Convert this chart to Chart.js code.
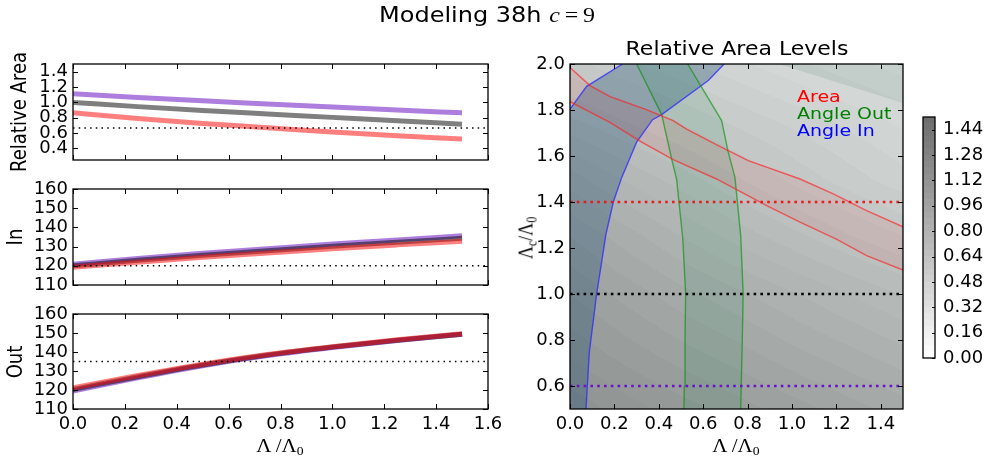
<!DOCTYPE html>
<html><head><meta charset="utf-8">
<script src="https://cdn.jsdelivr.net/npm/chart.js@4/dist/chart.umd.min.js"></script>
<style>
html,body{margin:0;padding:0;background:#fff;}
#wrap{position:relative;width:992px;height:467px;overflow:hidden;background:#fff;}
canvas{position:absolute;left:0;top:0;}
.t{position:absolute;white-space:nowrap;line-height:1;font-family:"DejaVu Sans",sans-serif;color:#000;}
.m{font-family:"Liberation Serif","DejaVu Serif",serif;}
.c{transform:translate(-50%,-50%) scaleY(0.86);}
.r{transform:translate(-50%,-50%) scaleY(0.86) rotate(-90deg);}
.l{transform:translate(0,-50%) scaleY(0.86);}
sub{font-size:65%;vertical-align:-0.3em;line-height:0;}
</style></head>
<body><div id="wrap">
<canvas id="p1" width="992" height="467"></canvas>
<canvas id="p2" width="992" height="467"></canvas>
<canvas id="p3" width="992" height="467"></canvas>
<canvas id="pc" width="992" height="467"></canvas>
<canvas id="cb" width="992" height="467"></canvas>
<div class="t c" style="left:487px;top:15px;font-size:24px;">Modeling 38h <span class="m" style="font-style:italic">c</span><span class="m">&thinsp;=&thinsp;9</span></div>
<div class="t c" style="left:737px;top:49px;font-size:22px;">Relative Area Levels</div>
<div class="t r" style="left:19px;top:112px;font-size:21px;">Relative Area</div>
<div class="t r" style="left:15px;top:237px;font-size:21px;">In</div>
<div class="t r" style="left:15px;top:362px;font-size:21px;">Out</div>
<div class="t c m" style="left:280px;top:446px;font-size:21px;">Λ&thinsp;/Λ<sub>0</sub></div>
<div class="t c m" style="left:736px;top:446px;font-size:21px;">Λ&thinsp;/Λ<sub>0</sub></div>
<div class="t r m" style="left:526px;top:238px;font-size:21px;">Λ<sub>c</sub>/Λ<sub>0</sub></div>
<div class="t l" style="left:797px;top:96px;font-size:19px;color:#ff0000;">Area</div>
<div class="t l" style="left:797px;top:113px;font-size:19px;color:#008000;">Angle Out</div>
<div class="t l" style="left:797px;top:130px;font-size:19px;color:#0000ff;">Angle In</div>
</div>
<script>
// ---------------- data ----------------
const lam = [0, 0.25, 0.5, 0.75, 1.0, 1.25, 1.5];
const areaPurple = [1.113, 1.065, 1.02, 0.98, 0.94, 0.90, 0.865];
const areaGray   = [1.0, 0.945, 0.895, 0.85, 0.805, 0.76, 0.717];
const areaRed    = [0.864, 0.79, 0.725, 0.67, 0.615, 0.565, 0.524];
const inPurple   = [120.8, 123.8, 126.5, 128.9, 131.3, 133.5, 135.6];
const inGray     = [120.0, 122.9, 125.5, 127.9, 130.2, 132.3, 134.3];
const inRed      = [119.2, 121.9, 124.4, 126.7, 128.9, 130.9, 132.8];
const outPurple  = [119.5, 126.4, 132.8, 138.1, 142.4, 146.1, 149.3];
const outGray    = [120.3, 127.0, 133.2, 138.4, 142.6, 146.2, 149.4];
const outRed     = [121.1, 127.6, 133.6, 138.7, 142.8, 146.4, 149.6];
const targetArea = 0.667, targetIn = 120, targetOut = 135;

const xTicksLeft  = [0.0, 0.2, 0.4, 0.6, 0.8, 1.0, 1.2, 1.4, 1.6];
const yTicksArea  = [0.4, 0.6, 0.8, 1.0, 1.2, 1.4];
const yTicksAngle = [110, 120, 130, 140, 150, 160];
const xTicksRight = [0.0, 0.2, 0.4, 0.6, 0.8, 1.0, 1.2, 1.4];
const yTicksRight = [0.6, 0.8, 1.0, 1.2, 1.4, 1.6, 1.8, 2.0];

// relative-area field (rows: Λc, cols: Λ)
const fieldLam  = [0, 0.25, 0.5, 0.75, 1.0, 1.25, 1.5];
const fieldLamC = [0.5, 0.75, 1.0, 1.25, 1.5, 1.75, 2.0];
const fieldRows = [
  [1.15, 1.10, 1.06, 1.02, 0.98, 0.94, 0.90],
  [1.07, 1.02, 0.975, 0.935, 0.89, 0.85, 0.81],
  [1.00, 0.945, 0.895, 0.85, 0.805, 0.76, 0.717],
  [0.92, 0.86, 0.80, 0.745, 0.695, 0.645, 0.60],
  [0.82, 0.755, 0.70, 0.645, 0.59, 0.54, 0.495],
  [0.69, 0.64, 0.595, 0.55, 0.51, 0.47, 0.43],
  [0.575, 0.53, 0.49, 0.45, 0.41, 0.375, 0.34]
];
// contour lines [Λ, Λc]
const redUpper = [[0,1.985],[0.09,1.906],[0.18,1.858],[0.338,1.804],[0.465,1.754],[0.525,1.717],[0.668,1.645],[0.803,1.58],[1.036,1.5],[1.186,1.435],[1.336,1.362],[1.5,1.292]];
const redLower = [[0,1.836],[0.18,1.746],[0.323,1.66],[0.465,1.584],[0.66,1.5],[0.886,1.384],[1.036,1.312],[1.2,1.239],[1.336,1.167],[1.5,1.104]];
const greenLeft  = [[0.513,0.5],[0.515,0.6],[0.518,0.8],[0.521,1.0],[0.508,1.24],[0.48,1.5],[0.458,1.587],[0.413,1.78],[0.30,2.0]];
const greenRight = [[0.53,2.0],[0.683,1.754],[0.712,1.62],[0.743,1.507],[0.769,1.253],[0.78,1.0],[0.776,0.8],[0.769,0.5]];
const blueRight = [[0.072,0.5],[0.087,0.747],[0.12,1.0],[0.162,1.26],[0.195,1.40],[0.233,1.507],[0.30,1.66],[0.372,1.758],[0.413,1.78],[0.623,1.928],[0.694,2.0]];
const blueLeft  = [[0,1.804],[0.075,1.903],[0.237,2.0]];
const cornerPatch = [[0.94,2.0],[1.5,2.0],[1.5,1.83]];
const lamRange = [0, 1.5], lamCRange = [0.5, 2.0];
const dottedLevels = [0.6, 1.0, 1.4];

const cbLevels = [0.00,0.04,0.08,0.12,0.16,0.20,0.24,0.28,0.32,0.36,0.40,0.44,0.48,0.52,0.56,0.60,0.64,0.68,0.72,0.76,0.80,0.84,0.88,0.92,0.96,1.00,1.04,1.08,1.12,1.16,1.20,1.24,1.28,1.32,1.36,1.40,1.44,1.48,1.52];
const cbTicks = [0.00,0.16,0.32,0.48,0.64,0.80,0.96,1.12,1.28,1.44];

// ---------------- helpers ----------------
Chart.defaults.font.family = '"DejaVu Sans", sans-serif';
Chart.defaults.color = '#000';

const pts = (xs, ys) => xs.map((x, i) => ({x: x, y: ys[i]}));
const pairs = arr => arr.map(p => ({x: p[0], y: p[1]}));

function grayFor(v) {
  let i = 0;
  while (i < cbLevels.length - 2 && v >= cbLevels[i + 1]) i++;
  const mid = (cbLevels[i] + cbLevels[i + 1]) / 2;
  return Math.round(255 - 147 * mid / cbLevels[cbLevels.length - 1]);
}
function interp1(arr, v) {
  let k = 0;
  while (k < arr.length - 2 && v > arr[k + 1]) k++;
  let t = (v - arr[k]) / (arr[k + 1] - arr[k]);
  t = Math.max(0, Math.min(1, t));
  return [k, t];
}
function fieldAt(x, y) {
  const [i, tx] = interp1(fieldLam, x);
  const [j, ty] = interp1(fieldLamC, y);
  const a = fieldRows[j][i], b = fieldRows[j][i + 1], c = fieldRows[j + 1][i], d = fieldRows[j + 1][i + 1];
  return (a * (1 - tx) + b * tx) * (1 - ty) + (c * (1 - tx) + d * tx) * ty;
}

const framePlugin = {
  id: 'frame',
  afterDatasetsDraw(chart, args, o) {
    const {ctx, chartArea: a, scales} = chart;
    const x = scales.x, y = scales.y;
    const L = o.len || 5;
    ctx.save();
    ctx.strokeStyle = '#000';
    ctx.lineWidth = 1;
    ctx.beginPath();
    (o.xt || []).forEach(v => {
      const p = Math.round(x.getPixelForValue(v)) + 0.5;
      ctx.moveTo(p, a.bottom); ctx.lineTo(p, a.bottom - L);
      ctx.moveTo(p, a.top); ctx.lineTo(p, a.top + L);
    });
    (o.yt || []).forEach(v => {
      const p = Math.round(y.getPixelForValue(v)) + 0.5;
      if (o.left !== false) { ctx.moveTo(a.left, p); ctx.lineTo(a.left + L, p); }
      ctx.moveTo(a.right, p); ctx.lineTo(a.right - L, p);
    });
    ctx.stroke();
    ctx.lineWidth = 1.3;
    ctx.strokeRect(a.left, a.top, a.right - a.left, a.bottom - a.top);
    ctx.restore();
  }
};

const fieldPlugin = {
  id: 'field',
  beforeDatasetsDraw(chart) {
    const {ctx, chartArea: a, scales: {x, y}} = chart;
    const L = Math.round(a.left), T = Math.round(a.top);
    const W = Math.round(a.right) - L, H = Math.round(a.bottom) - T;
    const img = ctx.createImageData(W, H);
    for (let j = 0; j < H; j++) {
      const vy = y.getValueForPixel(T + j + 0.5);
      for (let i = 0; i < W; i++) {
        const vx = x.getValueForPixel(L + i + 0.5);
        const g = grayFor(fieldAt(vx, vy));
        const k = (j * W + i) * 4;
        img.data[k] = Math.max(0, g - 3);
        img.data[k + 1] = Math.min(255, g + 2);
        img.data[k + 2] = Math.min(255, g + 1);
        img.data[k + 3] = 255;
      }
    }
    ctx.putImageData(img, L, T);
  }
};

function xScale(min, max, ticksArr, show, H, fmt) {
  return {
    type: 'linear', min: min, max: max,
    grid: {display: false, drawTicks: false}, border: {display: false},
    ticks: {display: show, font: {size: 18}, padding: 5, maxRotation: 0, minRotation: 0, autoSkip: false, callback: fmt},
    afterBuildTicks: s => { s.ticks = ticksArr.map(v => ({value: v})); },
    afterFit: s => { s.height = H; s.paddingLeft = 0; s.paddingRight = 0; }
  };
}
function yScale(min, max, ticksArr, W, fmt, pos) {
  return {
    type: 'linear', min: min, max: max, position: pos || 'left',
    grid: {display: false, drawTicks: false}, border: {display: false},
    ticks: {font: {size: 18}, padding: pos === 'right' ? 8 : 5, autoSkip: false, callback: fmt},
    afterBuildTicks: s => { s.ticks = ticksArr.map(v => ({value: v})); },
    afterFit: s => { s.width = W; s.paddingTop = 0; s.paddingBottom = 0; }
  };
}

const purpleC = 'rgba(120,40,200,0.6)', grayC = 'rgba(0,0,0,0.5)', redC = 'rgba(255,0,0,0.5)';

function leftPanel(id, top, bottom, ymin, ymax, yTicks, fmt, series, target, showX) {
  const W = 60, H = showX ? 40 : 0;
  const ds = series.map((s, i) => ({
    data: pts(lam, s[0]), borderColor: s[1], borderWidth: 5, pointRadius: 0,
    cubicInterpolationMode: 'monotone', borderCapStyle: 'butt', fill: false, order: 10 - i
  }));
  ds.push({data: [{x: xTicksLeft[0], y: target}, {x: xTicksLeft[xTicksLeft.length - 1], y: target}],
    borderColor: '#000', borderWidth: 1.5, borderDash: [1.5, 4.2], pointRadius: 0, fill: false, order: 0});
  new Chart(document.getElementById(id), {
    type: 'line',
    data: {datasets: ds},
    options: {
      responsive: false, animation: false, devicePixelRatio: 1,
      layout: {padding: {left: 73 - W, right: 992 - 488, top: top, bottom: 467 - bottom - H}},
      plugins: {legend: {display: false}, tooltip: {enabled: false}, frame: {xt: xTicksLeft, yt: yTicks, len: 5}},
      scales: {
        x: xScale(0, 1.6, xTicksLeft, showX, H, v => v.toFixed(1)),
        y: yScale(ymin, ymax, yTicks, W, fmt)
      }
    },
    plugins: [framePlugin]
  });
}

leftPanel('p1', 64, 160, 0.25, 1.5, yTicksArea, v => v.toFixed(1),
  [[areaPurple, purpleC], [areaGray, grayC], [areaRed, redC]], targetArea, false);
leftPanel('p2', 189, 285, 110, 160, yTicksAngle, v => String(v),
  [[inPurple, purpleC], [inGray, grayC], [inRed, redC]], targetIn, false);
leftPanel('p3', 314, 409, 110, 160, yTicksAngle, v => String(v),
  [[outPurple, purpleC], [outGray, grayC], [outRed, redC]], targetOut, true);

// ---------------- contour panel ----------------
const bluePoly = blueRight.concat(blueLeft.slice().reverse(), [[lamRange[0], lamCRange[0]]]);
const greenPoly = greenLeft.concat(greenRight);
const redPoly = redUpper.concat(redLower.slice().reverse());

const polyDs = (arr, col, ord) => ({data: pairs(arr), backgroundColor: col, borderWidth: 0, borderColor: 'rgba(0,0,0,0)', fill: 'shape', pointRadius: 0, order: ord});
const lineDs = (arr, col, ord) => ({data: pairs(arr), borderColor: col, borderWidth: 1.4, fill: false, pointRadius: 0, order: ord});
const dotDs = (lv, col, ord) => ({data: [{x: lamRange[0], y: lv}, {x: lamRange[1], y: lv}], borderColor: col, borderWidth: 2.6, borderDash: [2.6, 4.2], fill: false, pointRadius: 0, order: ord});

new Chart(document.getElementById('pc'), {
  type: 'line',
  data: {datasets: [
    polyDs(cornerPatch, 'rgba(60,110,95,0.13)', 20),
    polyDs(bluePoly, 'rgba(20,70,105,0.30)', 19),
    polyDs(greenPoly, 'rgba(0,130,60,0.11)', 18),
    polyDs(redPoly, 'rgba(255,0,0,0.07)', 17),
    lineDs(blueRight, 'rgba(40,40,255,0.75)', 16),
    lineDs(blueLeft, 'rgba(40,40,255,0.75)', 15),
    lineDs(greenLeft, 'rgba(0,140,0,0.6)', 14),
    lineDs(greenRight, 'rgba(0,140,0,0.6)', 13),
    lineDs(redUpper, 'rgba(255,30,30,0.65)', 12),
    lineDs(redLower, 'rgba(255,30,30,0.65)', 11),
    dotDs(dottedLevels[2], 'rgba(235,20,20,0.95)', 3),
    dotDs(dottedLevels[1], '#000000', 2),
    dotDs(dottedLevels[0], '#6a10d0', 1)
  ]},
  options: {
    responsive: false, animation: false, devicePixelRatio: 1,
    layout: {padding: {left: 570 - 60, right: 992 - 903, top: 64, bottom: 467 - 409 - 40}},
    plugins: {legend: {display: false}, tooltip: {enabled: false}, filler: {propagate: false},
      frame: {xt: xTicksRight, yt: yTicksRight, len: 5}},
    scales: {
      x: xScale(lamRange[0], lamRange[1], xTicksRight, true, 40, v => v.toFixed(1)),
      y: yScale(lamCRange[0], lamCRange[1], yTicksRight, 60, v => v.toFixed(1))
    }
  },
  plugins: [fieldPlugin, framePlugin]
});

// ---------------- colorbar ----------------
const cbDs = [];
for (let i = 0; i < cbLevels.length - 1; i++) {
  const g = grayFor((cbLevels[i] + cbLevels[i + 1]) / 2);
  cbDs.push({data: [[cbLevels[i], cbLevels[i + 1]]], backgroundColor: `rgb(${g},${g},${g})`,
    borderWidth: 0, grouped: false, barPercentage: 1, categoryPercentage: 1});
}
new Chart(document.getElementById('cb'), {
  type: 'bar',
  data: {labels: [''], datasets: cbDs},
  options: {
    responsive: false, animation: false, devicePixelRatio: 1,
    layout: {padding: {left: 923, right: 992 - 935 - 50, top: 117, bottom: 467 - 358}},
    plugins: {legend: {display: false}, tooltip: {enabled: false},
      frame: {xt: [], yt: cbTicks, len: 3, left: false}},
    scales: {
      x: {display: false, afterFit: s => { s.height = 0; s.paddingLeft = 0; s.paddingRight = 0; }},
      y: yScale(cbLevels[0], cbLevels[cbLevels.length - 1], cbTicks, 50, v => v.toFixed(2), 'right')
    }
  },
  plugins: [framePlugin]
});
</script>
</body></html>
